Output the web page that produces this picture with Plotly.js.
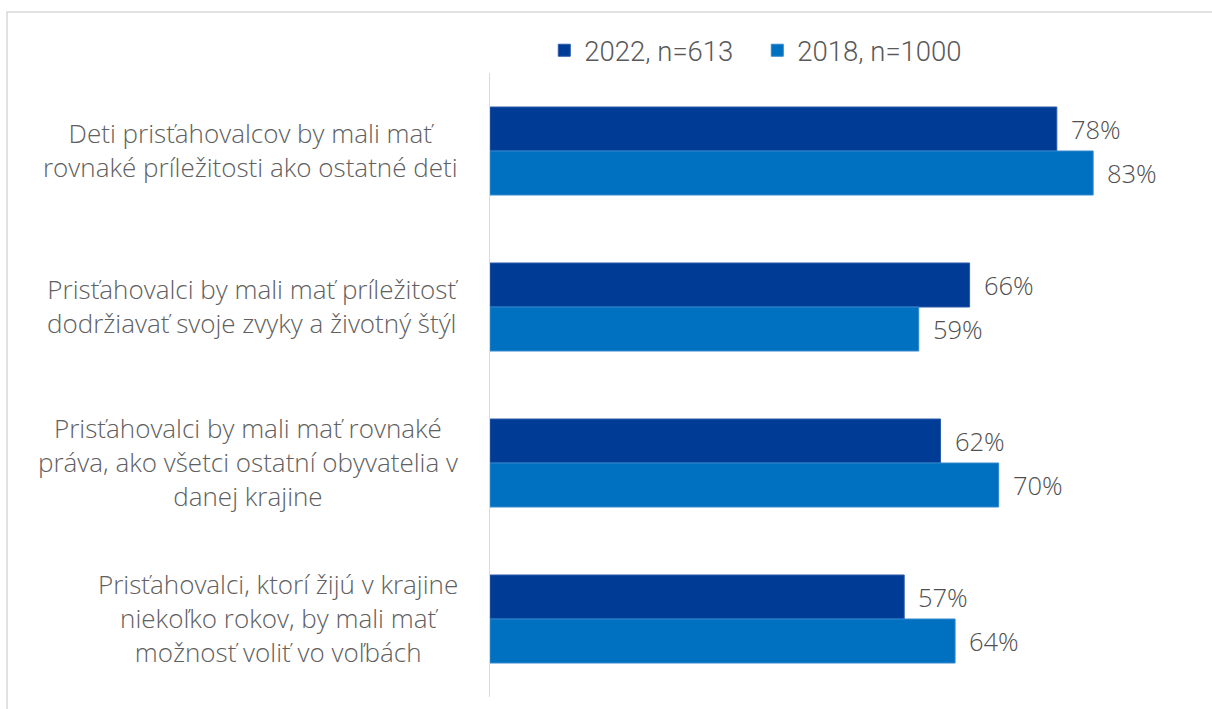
<!DOCTYPE html>
<html>
<head>
<meta charset="utf-8">
<script src="https://cdn.plot.ly/plotly-3.0.1.min.js"></script>
<style>html,body{margin:0;padding:0;background:#fff;}#chart{width:1212px;height:709px;}</style>
</head>
<body>
<div id="chart"></div>
<script>
const categories = [
  "Deti prisťahovalcov by mali mať<br>rovnaké príležitosti ako ostatné deti",
  "Prisťahovalci by mali mať príležitosť<br>dodržiavať svoje zvyky a životný štýl",
  "Prisťahovalci by mali mať rovnaké<br>práva, ako všetci ostatní obyvatelia v<br>danej krajine",
  "Prisťahovalci, ktorí žijú v krajine<br>niekoľko rokov, by mali mať<br>možnosť voliť vo voľbách"
];
const series2022 = [78, 66, 62, 57];
const series2018 = [83, 59, 70, 64];
const seriesNames = ["2022, n=613", "2018, n=1000"];

const textFont = "'Open Sans', Lato, sans-serif";
const catIdx = categories.map((c, i) => i);

const traces = [
  {type: 'bar', orientation: 'h', name: seriesNames[0], y: catIdx, x: series2022,
   marker: {color: '#003B95', line: {color: '#2A5BAA', width: 1}}, hoverinfo: 'x'},
  {type: 'bar', orientation: 'h', name: seriesNames[1], y: catIdx, x: series2018,
   marker: {color: '#0070C0', line: {color: '#3388CC', width: 1}}, hoverinfo: 'x'}
];

const annotations = [];
categories.forEach((c, i) => {
  annotations.push({xref: 'paper', yref: 'y', x: 0, y: i, xanchor: 'right', yanchor: 'middle',
    xshift: -30, yshift: 1.5, align: 'center', text: c, showarrow: false,
    font: {family: textFont, size: 26, color: '#606060', weight: 300}});
});
[series2022, series2018].forEach((s, k) => {
  s.forEach((v, i) => {
    annotations.push({xref: 'x', yref: 'y', x: v, y: i + (k === 0 ? -0.141 : 0.141),
      xanchor: 'left', yanchor: 'middle', xshift: 12, text: v + '%', showarrow: false,
      font: {family: textFont, size: 25.5, color: '#505050', weight: 300}});
  });
});

const layout = {
  width: 1212, height: 709,
  margin: {l: 490, r: 68, t: 73, b: 12, pad: 0},
  paper_bgcolor: '#fff', plot_bgcolor: '#fff',
  barmode: 'group', bargap: 0.436, bargroupgap: 0,
  showlegend: true,
  legend: {orientation: 'h', x: 0.083, xanchor: 'left', y: 0.997, yanchor: 'bottom',
    traceorder: 'normal', font: {family: "Roboto, sans-serif", size: 27.5, color: '#595959', weight: 300},
    itemwidth: 30, entrywidth: 168, bgcolor: 'rgba(0,0,0,0)'},
  xaxis: {range: [0, 90], showgrid: false, zeroline: false, showticklabels: false, showline: false, fixedrange: true},
  yaxis: {autorange: 'reversed', showgrid: false, zeroline: false, showticklabels: false,
    showline: true, linecolor: '#D9D9D9', linewidth: 1.5, ticks: '', fixedrange: true},
  annotations: annotations,
  shapes: [{type: 'rect', xref: 'paper', yref: 'paper', x0: -0.7385, x1: 1.12, y0: -0.05, y1: 1.0978,
    line: {color: '#D9D9D9', width: 1.5}, fillcolor: 'rgba(0,0,0,0)', layer: 'below'}]
};

Plotly.newPlot('chart', traces, layout, {displayModeBar: false, staticPlot: true});
</script>
</body>
</html>
